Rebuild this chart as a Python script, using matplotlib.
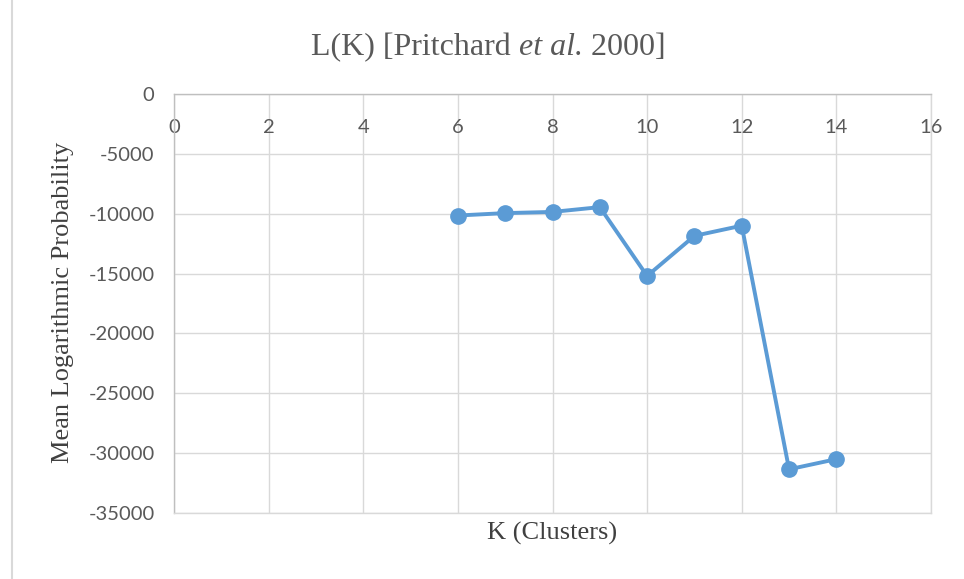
import matplotlib
matplotlib.use("Agg")
import matplotlib.pyplot as plt
from matplotlib.lines import Line2D
from matplotlib.text import Annotation

plt.rcParams["axes.unicode_minus"] = False

k_values = [6, 7, 8, 9, 10, 11, 12, 13, 14]
mean_lnp = [-10150, -9950, -9850, -9450, -15200, -11850, -11000, -31350, -30500]
x_ticks = [0, 2, 4, 6, 8, 10, 12, 14, 16]
y_ticks = [0, -5000, -10000, -15000, -20000, -25000, -30000, -35000]

fig = plt.figure(figsize=(9.64, 5.79), dpi=100)
ax = fig.add_axes([174/964, 1-513/579, (931-174)/964, (513-94)/579])

ax.plot(k_values, mean_lnp, color="#5B9BD5", linewidth=2.8, marker="o",
        markersize=11, zorder=3)

ax.set_xlim(0, 16)
ax.set_ylim(-35000, 0)
ax.set_xticks(x_ticks)
ax.set_yticks(y_ticks)
ax.grid(True, color="#d9d9d9", linewidth=1)
ax.set_axisbelow(True)
for s in ax.spines.values():
    s.set_color("#d9d9d9")
    s.set_linewidth(1)
ax.spines["top"].set_color("#bfbfbf")
ax.spines["left"].set_color("#bfbfbf")

ax.tick_params(axis="x", length=0, labeltop=True, labelbottom=False, pad=-30,
               colors="#595959", labelsize=14.5)
ax.tick_params(axis="y", length=0, pad=14, colors="#595959", labelsize=14.5)
for lab in ax.get_xticklabels() + ax.get_yticklabels():
    lab.set_fontfamily(["Lato", "DejaVu Sans"])

serif = ["Liberation Serif", "DejaVu Serif"]
ax.set_xlabel("K (Clusters)", fontsize=19, family=serif, color="#404040")
ax.set_ylabel("Mean Logarithmic Probability", fontsize=19, family=serif,
              color="#404040")
ax.xaxis.label.set_verticalalignment("center")
ax.yaxis.label.set_verticalalignment("center")
ax.xaxis.set_label_coords(0.5, (513-533)/419)
ax.yaxis.set_label_coords((63-174)/757, (513-302)/419)

tsize = 23
t1 = fig.text(311/964, 1-47.5/579, "L(K) [Pritchard ", ha="left", va="center",
              fontsize=tsize, family=serif, color="#595959")
t2 = fig.add_artist(Annotation(
    "et al.", xy=(1, 0), xycoords=t1, ha="left", va="bottom",
    fontsize=tsize, family=serif, style="italic", color="#595959"))
t3 = fig.add_artist(Annotation(
    " 2000]", xy=(1, 0), xycoords=t2, ha="left", va="bottom",
    fontsize=tsize, family=serif, color="#595959"))

fig.add_artist(Line2D([12/964, 12/964], [0, 1], transform=fig.transFigure,
                      color="#d9d9d9", linewidth=1.5))

fig.savefig("out.png", dpi=100, facecolor="white")
